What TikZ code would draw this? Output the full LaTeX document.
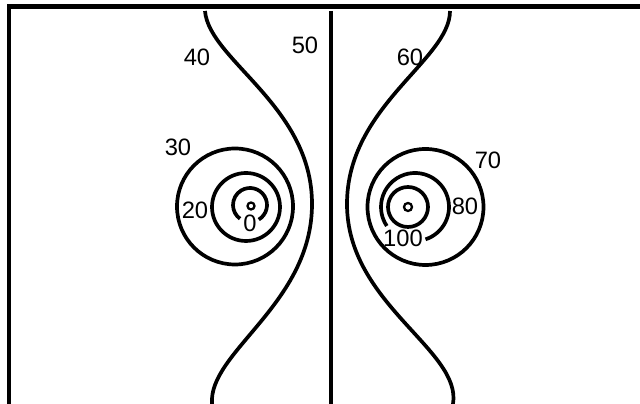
\documentclass[tikz,border=0pt]{standalone}
\usepackage{fontspec}
\setmainfont{Liberation Sans}
\usepackage{tikz}

\tikzset{
  contour/.style={line width=2.1pt},
  lab/.style={font=\fontsize{13.5}{16}\selectfont, inner sep=0pt}
}

\begin{document}
\begin{tikzpicture}[x=0.02cm, y=0.02cm]
    \useasboundingbox (0,0) rectangle (640,404);
    \draw[line width=2.6pt] (9,0) -- (9,397.3) -- (640,397.3);
    \draw[contour] (331,393) -- (331,0);
    \draw[contour] (205,393) .. controls (209,344) and (312,298) .. (312,200)
                             .. controls (312,100) and (208,52) .. (212,0);
    \draw[contour] (450,393) .. controls (450,344) and (347,298) .. (347,200)
                             .. controls (347,100) and (462,54) .. (453,0);
    \coordinate (lc) at (250,199);
    \coordinate (rc) at (415,197);
    \draw[contour] (235,197.5) circle (58);
    \draw[contour] (246,197) circle (34);
    \draw[contour] ([shift={(-59:17)}]lc) arc[start angle=-59, end angle=234, radius=17];
    \draw[line width=1.3pt] (251,198) circle (3.5);
    \draw[contour] (425.5,197) circle (58);
    \draw[contour] ([shift={(-72:34)}]rc) arc[start angle=-72, end angle=214, radius=34];
    \draw[contour] (408,197) circle (20);
    \draw[line width=1.3pt] (408,197) circle (4);
    \node[lab] (l40) at (197,347) {40};
    \node[lab] (l50) at (305,359) {50};
    \node[lab] (l60) at (410,347) {60};
    \node[lab] (l30) at (178,257) {30};
    \node[lab] (l70) at (488,244) {70};
    \node[lab] (l20) at (195,194) {20};
    \node[lab] (l80) at (465,198) {80};
    \node[lab] (l0) at (250,181) {0};
    \node[lab] (l100) at (403,166) {100};
\end{tikzpicture}
\end{document}
